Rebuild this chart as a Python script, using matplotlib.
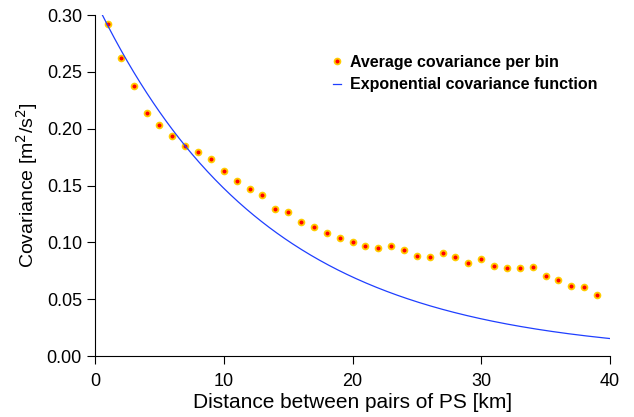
import numpy as np
import matplotlib.pyplot as plt

plt.rcParams['font.family'] = ['Liberation Sans', 'DejaVu Sans']

# average covariance per distance bin
dist_km = np.arange(1, 40)
cov_bin = [0.292, 0.262, 0.2375, 0.2135, 0.203, 0.1935, 0.185, 0.1795, 0.1736,
           0.1625, 0.154, 0.147, 0.142, 0.129, 0.127, 0.1176, 0.1132, 0.108,
           0.104, 0.1003, 0.0965, 0.0947, 0.0968, 0.093, 0.088, 0.0871, 0.0903,
           0.0868, 0.0815, 0.0853, 0.0795, 0.0774, 0.0774, 0.078, 0.0707,
           0.0672, 0.0616, 0.061, 0.054]

# fitted exponential model: C(d) = sill * exp(-d / corr_len)
sill = 0.313
corr_len = 13.3

d = np.linspace(0, 40, 400)
c_exp = sill*np.exp(-d/corr_len)

fig = plt.figure(figsize=(6.34, 4.17), dpi=100)
ax = fig.add_axes([0.150, 0.146, 0.812, 0.818])

ax.plot(dist_km, cov_bin, linestyle='none', marker='o', markersize=4.2,
        markerfacecolor='red', markeredgecolor='#ffcc00', markeredgewidth=1.3,
        label='Average covariance per bin')
ax.plot(d, c_exp, color='#1f3fff', linewidth=0.9,
        label='Exponential covariance function')

ax.set_xlim(0, 40)
ax.set_ylim(0, 0.30)
ax.set_xticks([0, 10, 20, 30, 40])
ax.set_yticks(np.arange(0, 0.31, 0.05))
ax.yaxis.set_major_formatter(plt.FormatStrFormatter('%.2f'))
ax.spines['top'].set_visible(False)
ax.spines['right'].set_visible(False)
ax.tick_params(labelsize=13, length=6, direction='out')
ax.tick_params(axis='x', pad=6)
ax.set_xlabel('Distance between pairs of PS [km]', fontsize=15, labelpad=2)
ax.set_ylabel('Covariance [m$^2$/s$^2$]', fontsize=14, labelpad=5)

leg = ax.legend(loc='upper left', bbox_to_anchor=(0.462, 0.883), frameon=False,
                borderpad=0, borderaxespad=0,
                handlelength=0.5, handletextpad=0.55, labelspacing=0.45,
                prop={'weight': 'bold', 'size': 11.5})

fig.savefig('out.png', dpi=100)
